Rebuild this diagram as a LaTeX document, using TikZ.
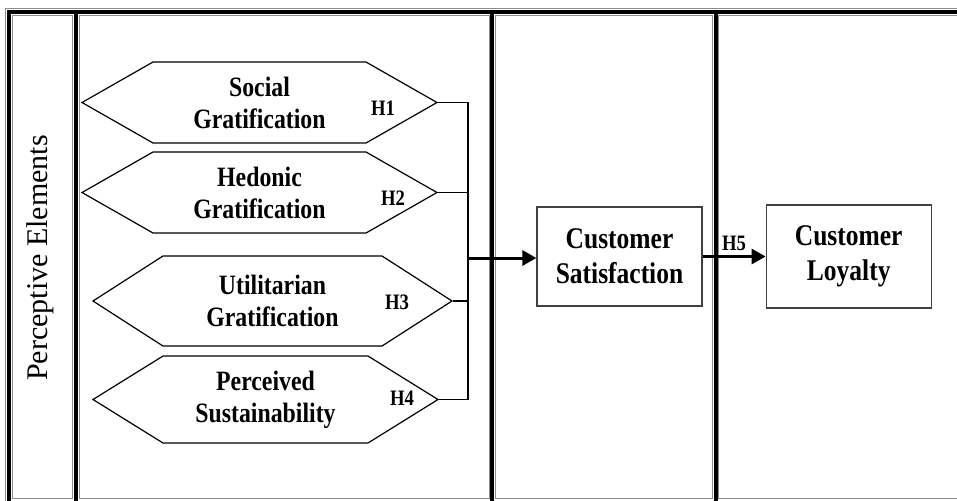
\documentclass[tikz,border=0pt]{standalone}
\usepackage{fontspec}
\setmainfont{Liberation Serif}
\newfontfamily\etroite[FakeStretch=0.85]{Liberation Serif}
\usetikzlibrary{positioning,shapes.symbols,arrows.meta}
\tikzstyle{hexa}=[signal,signal to=west and east,draw,line width=0.6pt,inner sep=0pt,align=center,font=\etroite\bfseries\fontsize{14}{16}\selectfont]
\tikzstyle{boite}=[rectangle,draw=black!75,line width=0.6pt,minimum width=82.5pt,align=center,font=\etroite\bfseries\fontsize{15}{17.5}\selectfont]
\tikzstyle{hlab}=[inner sep=0pt,font=\etroite\bfseries\fontsize{11}{12}\selectfont]
\tikzstyle{trait}=[line width=0.6pt]
\tikzstyle{fleche}=[line width=1.5pt,-{Triangle[length=7pt,width=7.5pt]}]
\tikzstyle{cadre}=[line width=2pt]
\tikzstyle{cellule}=[draw=black!45,line width=0.5pt]

\begin{document}
\begin{tikzpicture}[x=0.5pt,y=-0.5pt]
\useasboundingbox (0,0) rectangle (957,500);
\clip (0,0) rectangle (957,500);

% table frame
\draw[cellule] (12,15) rectangle (72,498);
\draw[cellule] (79,15) rectangle (489,498);
\draw[cellule] (495,15) rectangle (712,498);
\draw[cellule] (718,15) rectangle (970,498);
\draw[black!45,line width=0.5pt] (5,510)--(5,8)--(970,8);
\draw[cadre] (9,510)--(9,12)--(970,12);
\draw[cadre] (76,12)--(76,510);
\draw[cadre] (492,12)--(492,510);
\draw[cadre] (715.5,12)--(715.5,510);

\node[rotate=90,font=\fontsize{15}{17}\selectfont] (percep) at (40,258) {Perceptive Elements};

\node[hexa,minimum width=177.5pt,minimum height=40.5pt,signal pointer angle=59.4] (social) at (259.5,102.5) {Social\\Gratification};
\node[hexa,minimum width=177.5pt,minimum height=40.5pt,signal pointer angle=59.4] (hedonic) at (259.5,192.5) {Hedonic\\Gratification};
\node[hexa,minimum width=179.5pt,minimum height=45pt,signal pointer angle=65.5] (util) at (272.5,301) {Utilitarian\\Gratification};
\node[hexa,minimum width=172.5pt,minimum height=43.5pt,signal pointer angle=63.7] (percu) at (265.5,399.5) {Perceived\\Sustainability};

\node[hlab] (h1) at (383,108) {H1};
\node[hlab] (h2) at (393,198) {H2};
\node[hlab] (h3) at (397,302) {H3};
\node[hlab] (h4) at (402,398) {H4};

\node[boite,minimum height=49.5pt] (satis) at (619.5,256.5) {Customer\\Satisfaction};
\node[boite,minimum height=51.5pt] (loyal) [right=31.5pt of satis] {Customer\\Loyalty};

\coordinate (bus) at (468,258);
\draw[trait] (social.east) -| (bus) |- (percu.east);
\draw[trait] (hedonic.east) -- (hedonic.east -| bus);
\draw[trait] (util.east) -- (util.east -| bus);
\draw[fleche] (bus) -- (bus -| satis.west);
\draw[fleche] (satis.east) -- (satis.east -| loyal.west) node[midway,above=2pt,hlab] (h5) {H5};

\end{tikzpicture}
\end{document}
